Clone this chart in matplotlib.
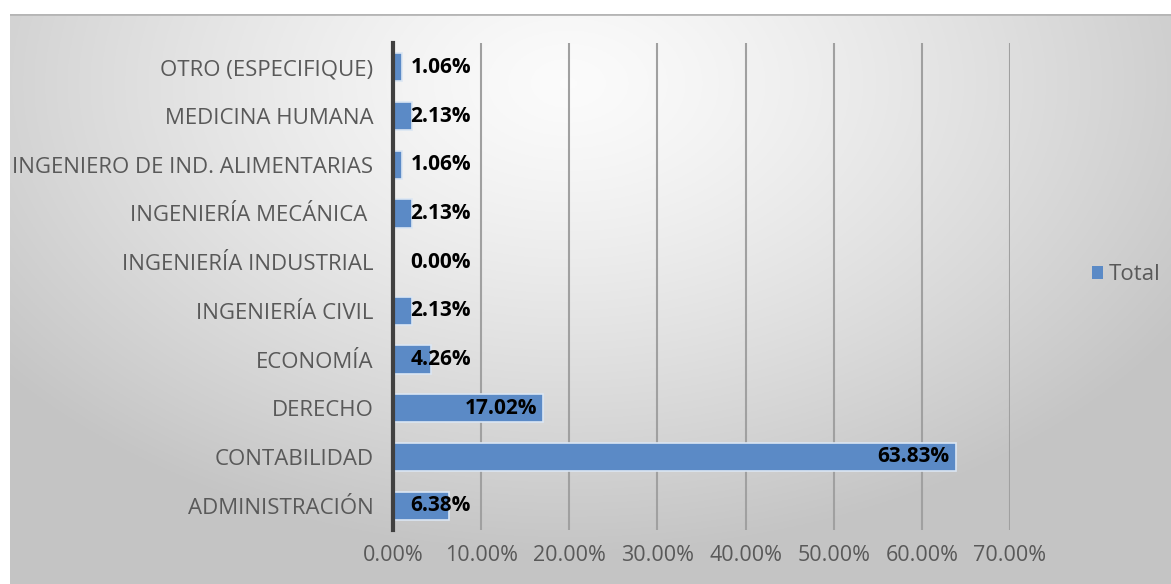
import numpy as np
import matplotlib
matplotlib.use("Agg")
import matplotlib.pyplot as plt
from matplotlib.patches import Patch

categories = ["ADMINISTRACIÓN", "CONTABILIDAD", "DERECHO", "ECONOMÍA",
              "INGENIERÍA CIVIL", "INGENIERÍA INDUSTRIAL", "INGENIERÍA MECÁNICA ",
              "INGENIERO DE IND. ALIMENTARIAS", "MEDICINA HUMANA", "OTRO (ESPECIFIQUE)"]
values = [6.38, 63.83, 17.02, 4.26, 2.13, 0.00, 2.13, 1.06, 2.13, 1.06]
xticks = [0, 10, 20, 30, 40, 50, 60, 70]
series_name = "Total"

W, H = 1171, 584
fig = plt.figure(figsize=(W / 100, H / 100), dpi=100)
fig.patch.set_facecolor("white")

# gradient background panel
bg = fig.add_axes([10 / W, 0, 1 - 10 / W, 1 - 14 / H])
bg.set_axis_off()
ny, nx = 300, 600
yy, xx = np.mgrid[0:ny, 0:nx]
cx, cy = nx * 0.48, ny * 0.12
r = np.sqrt(((xx - cx) / nx) ** 2 + ((yy - cy) / ny * 0.75) ** 2)
r = np.clip(r / 0.62, 0, 1)
c0, c1 = 0.985, 0.77
img = c0 + (c1 - c0) * r ** 1.3
bg.imshow(np.dstack([img, img, img]), aspect="auto", extent=[0, 1, 0, 1], origin="upper")
bg.set_xlim(0, 1); bg.set_ylim(0, 1)
bg.axhline(1, color="#b5b5b5", lw=2)

FS = 16
ax = fig.add_axes([393 / W, 1 - 530 / H, (1010 - 393) / W, (530 - 43) / H])
ax.patch.set_alpha(0)
y = np.arange(len(categories))
bars = ax.barh(y, values, height=0.58, color="#5b8ac6", edgecolor="#dbe6f3", linewidth=1.2, zorder=3)
ax.set_xlim(0, 70)
ax.set_ylim(-0.5, len(categories) - 0.5)
ax.set_xticks(xticks)
ax.set_xticklabels([f"{v:.2f}%" for v in xticks], fontsize=15.5, color="#595959", family="Open Sans")
ax.set_yticks(y)
ax.set_yticklabels(categories, fontsize=FS, color="#595959", family="Open Sans")
ax.tick_params(length=0, pad=14)
ax.tick_params(axis="x", pad=11)
ax.grid(axis="x", color="#a0a0a0", lw=1.5, zorder=1)
for s in ["top", "right", "bottom"]:
    ax.spines[s].set_visible(False)
ax.spines["left"].set_color("#404040")
ax.spines["left"].set_linewidth(3)
ax.spines["left"].set_zorder(4)

for yi, v in zip(y, values):
    txt = f"{v:.2f}%"
    if v < 10:
        ax.text(2.0, yi, txt, ha="left", va="center", fontsize=15, fontweight="bold",
                color="black", family="Open Sans", zorder=5)
    else:
        ax.text(v - 0.7, yi, txt, ha="right", va="center", fontsize=15, fontweight="bold",
                color="black", family="Open Sans", zorder=5)

fig.legend(handles=[Patch(facecolor="#5b8ac6", edgecolor="none")], labels=[series_name],
           loc="center left", bbox_to_anchor=(1072 / W, 1 - 275 / H), frameon=False,
           prop={"family": "Open Sans", "size": FS}, labelcolor="#595959",
           handlelength=0.5, handleheight=0.5, handletextpad=0.25)

fig.savefig("out.png", dpi=100)
